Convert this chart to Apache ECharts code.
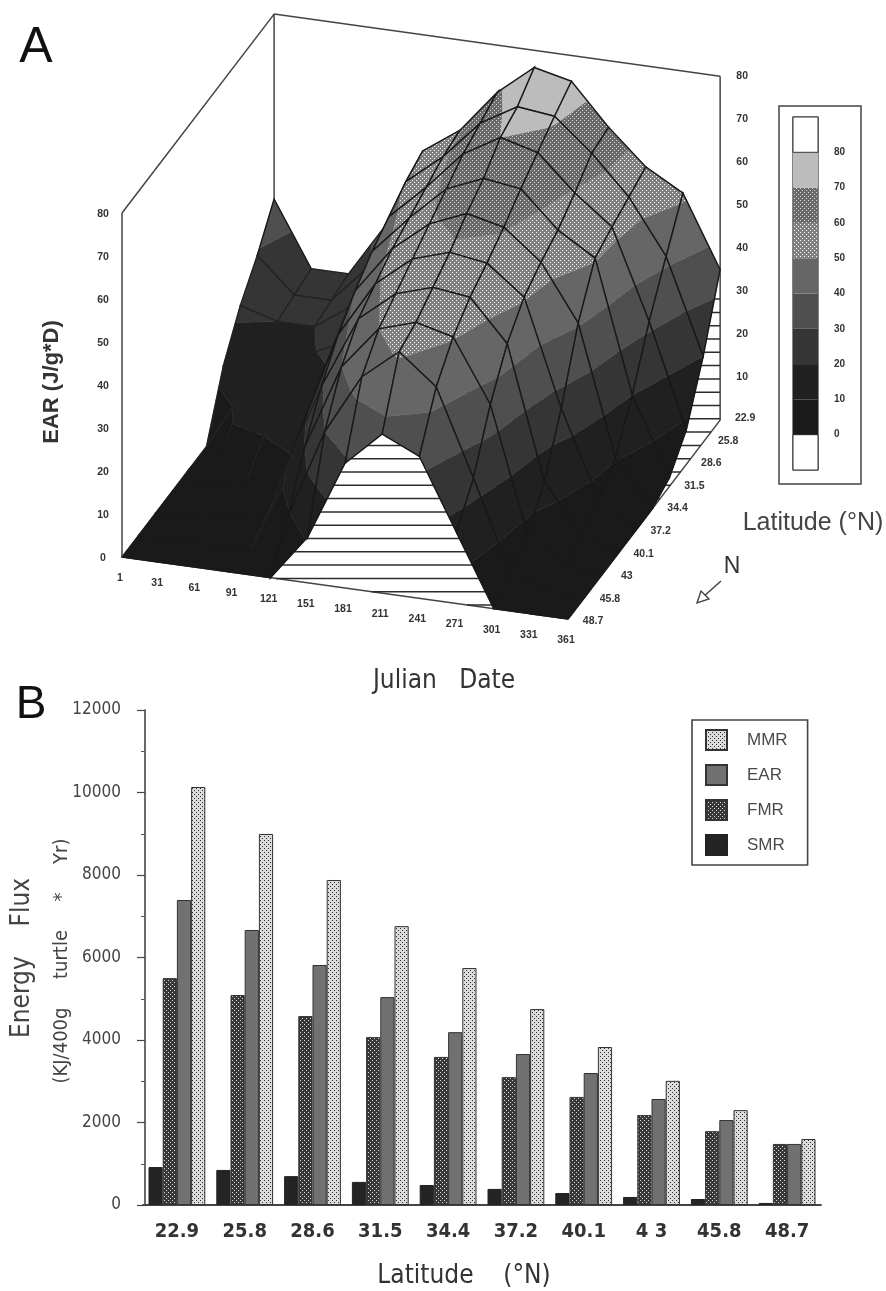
<!DOCTYPE html>
<html><head><meta charset="utf-8">
<style>html,body{margin:0;padding:0;background:#fff}#c{width:886px;height:1291px;filter:blur(0.6px)}</style>
<script src="https://cdn.jsdelivr.net/npm/echarts@6/dist/echarts.min.js"></script>
</head><body><div id="c"></div>
<script>
// ---------- Panel A data ----------
const julianDates = [1,31,61,91,121,151,181,211,241,271,301,331,361];
const latitudeLabels = ['22.9','25.8','28.6','31.5','34.4','37.2','40.1','43','45.8','48.7'];
const ear229 = [37,22,22,34.5,53,59,69,76,74,64.5,56.5,51.6,35];
const ear258 = [29,21,21,30,51,58,67,72,71,63.6,54.6,42,20];
const ear286 = [22.5,20,20,26,48,56,65,70,67.7,59.5,52.8,32,8];
const ear315 = [13.7,18.5,18,22,45,54,62,65.6,64.4,56,50.7,20,2];
const ear344 = [0,14,15,18,41,52,59,62.6,60.6,53.7,40.7,10.5,0];
const ear372 = [0,8,10,13,36,49,56,58.7,57.4,50.7,26,6,0];
const ear401 = [0,3,5,8,29,46,53,55.7,54.6,45,14,3,0];
const ear430 = [0,0,1,3,20,40,50,52.7,50.5,36,7,1,0];
const ear458 = [0,0,0,0,9,30,44,51,44,24,3,0,0];
const ear487 = [0,0,0,0,0,10.7,29,37,33,16.5,0,0,0];
const earRows = [ear229,ear258,ear286,ear315,ear344,ear372,ear401,ear430,ear458,ear487];
const zTicks = [0,10,20,30,40,50,60,70,80];
const bandLows = [-10,0,10,20,30,40,50,60,70,80];
// ---------- Panel B data ----------
const barLatitudes = ['22.9','25.8','28.6','31.5','34.4','37.2','40.1','4 3','45.8','48.7'];
const smr = [920,850,700,560,485,390,290,195,145,50];
const fmr = [5500,5090,4580,4070,3590,3100,2620,2180,1790,1480];
const ear = [7394,6667,5818,5040,4190,3660,3200,2570,2060,1480];
const mmr = [10133,8994,7879,6760,5745,4750,3830,3010,2300,1600];

// ---------- helpers ----------
function dots(base, dot, size, pts){
  const c=document.createElement('canvas');c.width=c.height=size;
  const x=c.getContext('2d');x.fillStyle=base;x.fillRect(0,0,size,size);
  x.fillStyle=dot;pts.forEach(p=>x.fillRect(p[0],p[1],1,1));
  return {image:c,repeat:'repeat'};
}
const lattice=[[0,0],[2,2]];
const bandFill={
  '-10':'#ffffff','0':'#1a1a1a','10':'#202020','20':'#353535','30':'#4f4f4f','40':'#666666',
  '50':dots('#808080','#ffffff',4,lattice),
  '60':dots('#6a6a6a','#d4d4d4',4,lattice),
  '70':'#bcbcbc','80':'#ffffff'
};
const CONDENSED='"DejaVu Sans Condensed","Liberation Sans",sans-serif';
const SANS='"Liberation Sans",Arial,sans-serif';
const INK='#333';

// oblique projection of (date index, row index from the back, EAR) into panel units
function proj(i,k,z){
  return [i*37.17+(9-k)*16.9, 62-i*5.17+(9-k)*22.1+z*4.3];
}
function clipBand(poly,lo,hi){
  function cut(pts,keep,at){
    const out=[];
    for(let n=0;n<pts.length;n++){
      const a=pts[n],b=pts[(n+1)%pts.length];
      if(keep(a[2])) out.push(a);
      if(keep(a[2])!==keep(b[2])){
        const t=(at-a[2])/(b[2]-a[2]);
        out.push([a[0]+(b[0]-a[0])*t,a[1]+(b[1]-a[1])*t,at]);
      }
    }
    return out;
  }
  let p=cut(poly,z=>z>=lo,lo);
  if(p.length) p=cut(p,z=>z<=hi,hi);
  return p;
}
const quads=[];
for(let k=0;k<earRows.length-1;k++)for(let i=0;i<julianDates.length-1;i++)quads.push([i,k]);

function renderQuad(params,api){
  const i=api.value(0),k=api.value(1);
  const corners=[[i,k],[i+1,k],[i+1,k+1],[i,k+1]].map(c=>[c[0],c[1],earRows[c[1]][c[0]]]);
  const poly=corners.map(c=>{const p=proj(c[0],c[1],c[2]);const q=api.coord(p);return [q[0],q[1],c[2]];});
  const children=[];
  bandLows.slice(1,9).forEach(lo=>{
    const part=clipBand(poly,lo,lo+10);
    if(part.length>2){
      const f=bandFill[lo];
      children.push({type:'polygon',shape:{points:part.map(p=>[p[0],p[1]])},
        style:{fill:f,stroke:typeof f==='string'?f:'#858585',lineWidth:0.5}});
    }
  });
  const top=Math.max(...poly.map(p=>p[2]));
  const meshColor=top<=10?'#1a1a1a':(i<4&&top<35?'#232323':'#181818');
  children.push({type:'polygon',shape:{points:poly.map(p=>[p[0],p[1]])},
    style:{fill:'none',stroke:meshColor,lineWidth:1.4}});
  return {type:'group',children};
}
function seg(api,a,b,w,col){
  const p=api.coord(a),q=api.coord(b);
  return {type:'line',shape:{x1:p[0],y1:p[1],x2:q[0],y2:q[1]},style:{stroke:col||'#444',lineWidth:w||1.5}};
}
function renderFrame(params,api){
  const back=0,front=9,last=12;
  const FL=proj(0,front,0),FR=proj(last,front,0),BR=proj(last,back,0),BL=proj(0,back,0);
  const FLt=proj(0,front,80),BLt=proj(0,back,80),BRt=proj(last,back,80);
  return {type:'group',children:[
    seg(api,FL,FLt),seg(api,FLt,BLt),seg(api,BLt,BRt),seg(api,BRt,BR),seg(api,BL,BLt),
    seg(api,FL,FR),seg(api,FR,BR)
  ]};
}
function renderHatch(params,api){
  const FL=proj(0,9,0),FR=proj(12,9,0),BR=proj(12,0,0),BL=proj(0,0,0);
  const top=330;
  const poly=[FL,FR,BR,[BR[0],top],[BL[0],top],BL];
  const ch=[];
  for(let v=14;v<top;v+=13.3){
    const xs=[];
    poly.forEach((a,n)=>{const b=poly[(n+1)%poly.length];
      if((a[1]-v)*(b[1]-v)<=0&&a[1]!==b[1]) xs.push(a[0]+(b[0]-a[0])*(v-a[1])/(b[1]-a[1]));});
    if(xs.length>1) ch.push(seg(api,[Math.min(...xs),v],[Math.max(...xs),v],1.5,'#2c2c2c'));
  }
  return {type:'group',children:ch};
}
function textEl(api,uv,dx,dy,text,font,align){
  const p=api.coord(uv);
  return {type:'text',x:p[0]+dx,y:p[1]+dy,style:{text:String(text),font:font,fill:INK,align:align||'center',verticalAlign:'middle'}};
}
const TICKFONT='bold 10.5px '+SANS;
function hiddenCustom(name,data,renderItem,z){
  return {type:'custom',name,xAxisIndex:0,yAxisIndex:0,data,renderItem,clip:false,silent:true,animation:false,z:z||2,tooltip:{show:false}};
}
const indexed=a=>a.map((_,n)=>[n]);

const option={
  backgroundColor:'#fff',animation:false,
  grid:[
    {left:122,top:12,width:600,height:607,show:false},
    {left:143,top:710,width:678,height:495,show:false},
    {left:793,top:117,width:25,height:353,show:true,borderColor:'#333',borderWidth:1.2,backgroundColor:'#fff'}
  ],
  xAxis:[
    {gridIndex:0,type:'value',min:0,max:600,show:false},
    {gridIndex:1,type:'category',data:barLatitudes,
      axisLine:{lineStyle:{color:'#444',width:1.8}},axisTick:{show:false},
      axisLabel:{color:INK,fontFamily:CONDENSED,fontWeight:'bold',fontSize:20,margin:17},
      name:'Latitude    (°N)',nameLocation:'middle',nameGap:58,
      nameTextStyle:{color:INK,fontFamily:CONDENSED,fontSize:26,padding:[0,36,0,0]}},
    {gridIndex:2,type:'value',min:0,max:1,show:false}
  ],
  yAxis:[
    {gridIndex:0,type:'value',min:0,max:607,show:false},
    {gridIndex:1,type:'value',min:0,max:12000,interval:2000,offset:-2,
      splitLine:{show:false},
      axisLine:{show:true,lineStyle:{color:'#444',width:1.6}},
      axisTick:{show:true,length:8,lineStyle:{color:'#444',width:1.2}},
      minorTick:{show:true,splitNumber:2,length:4,lineStyle:{color:'#555'}},
      axisLabel:{color:'#444',fontFamily:CONDENSED,fontSize:17,margin:24,formatter:v=>String(v)}},
    {gridIndex:2,type:'value',min:-10,max:90,interval:10,position:'right',
      splitLine:{show:false},axisLine:{show:false},axisTick:{show:false},
      axisLabel:{color:INK,fontFamily:SANS,fontWeight:'bold',fontSize:10,margin:16,padding:[5,0,0,0],
        formatter:v=>(v<0||v>80)?'':String(v)}}
  ],
  legend:{
    orient:'vertical',left:692,top:720,
    data:['MMR','EAR','FMR','SMR'],
    itemWidth:21,itemHeight:20,itemGap:13,
    padding:[9,20,9,13],
    borderColor:'#444',borderWidth:1.6,backgroundColor:'#fff',
    textStyle:{color:'#4a4a4a',fontFamily:SANS,fontSize:17,padding:[0,0,0,15]},
    selectedMode:false,icon:'rect'
  },
  graphic:[
    {type:'rect',shape:{x:779,y:106,width:82,height:378},style:{fill:'none',stroke:'#444',lineWidth:1.5},z:1},
    {type:'text',x:36,y:48,style:{text:'A',font:'50px '+SANS,fill:'#111',align:'center',verticalAlign:'middle'}},
    {type:'text',x:31,y:705,style:{text:'B',font:'46px '+SANS,fill:'#111',align:'center',verticalAlign:'middle'}},
    {type:'text',x:52,y:382,rotation:Math.PI/2,style:{text:'EAR (J/g*D)',font:'bold 22px '+SANS,fill:INK,align:'center',verticalAlign:'middle'}},
    {type:'text',x:444,y:681,style:{text:'Julian   Date',font:'26px '+CONDENSED,fill:INK,align:'center',verticalAlign:'middle'}},
    {type:'text',x:813,y:523,style:{text:'Latitude (°N)',font:'25px '+SANS,fill:'#444',align:'center',verticalAlign:'middle'}},
    {type:'text',x:732,y:567,style:{text:'N',font:'23px '+SANS,fill:'#333',align:'center',verticalAlign:'middle'}},
    {type:'line',shape:{x1:721,y1:581,x2:703,y2:597},style:{stroke:'#444',lineWidth:1.5}},
    {type:'polygon',shape:{points:[[697,603],[701,591],[709,599]]},style:{fill:'#fff',stroke:'#444',lineWidth:1.4}},
    {type:'text',x:22,y:958,rotation:Math.PI/2,style:{text:'Energy    Flux',font:'26px '+CONDENSED,fill:'#444',align:'center',verticalAlign:'middle'}},
    {type:'text',x:62,y:961,rotation:Math.PI/2,style:{text:'(KJ/400g     turtle     *     Yr)',font:'20px '+CONDENSED,fill:'#444',align:'center',verticalAlign:'middle'}}
  ],
  series:[
    hiddenCustom('walls',[[0]],renderFrame,1),
    hiddenCustom('hatch',[[0]],renderHatch,1),
    hiddenCustom('surface',quads,renderQuad,3),
    hiddenCustom('zLeft',zTicks.map(z=>[z]),(p,api)=>textEl(api,proj(0,9,api.value(0)),-19,1,api.value(0),TICKFONT),4),
    hiddenCustom('zRight',zTicks.slice(1).map(z=>[z]),(p,api)=>textEl(api,proj(12,0,api.value(0)),22,0,api.value(0),TICKFONT),4),
    hiddenCustom('dateLabels',indexed(julianDates),(p,api)=>textEl(api,proj(api.value(0),9,0),-2,21,julianDates[api.value(0)],TICKFONT),4),
    hiddenCustom('latLabels',indexed(latitudeLabels),(p,api)=>textEl(api,proj(12,api.value(0),0),25,api.value(0)*0.5-2,latitudeLabels[api.value(0)],TICKFONT),4),
    {type:'custom',name:'scale',xAxisIndex:2,yAxisIndex:2,data:bandLows.map(b=>[b]),silent:true,animation:false,z:5,
      renderItem:(p,api)=>{
        const lo=api.value(0),a=api.coord([0,lo+10]),b=api.coord([1,lo]);
        const ins=(lo<0||lo>=80);
        return {type:'rect',shape:{x:a[0],y:a[1],width:b[0]-a[0],height:b[1]-a[1]},
          style:{fill:bandFill[lo],stroke:ins?'#333':'none',lineWidth:1}};
      }},
    {type:'bar',name:'SMR',xAxisIndex:1,yAxisIndex:1,data:smr,barWidth:14.2,barGap:'0%',
      itemStyle:{color:'#242424',borderColor:'#222',borderWidth:1}},
    {type:'bar',name:'FMR',xAxisIndex:1,yAxisIndex:1,data:fmr,barWidth:14.2,barGap:'0%',
      itemStyle:{color:dots('#383838','#dcdcdc',4,lattice),borderColor:'#333',borderWidth:1}},
    {type:'bar',name:'EAR',xAxisIndex:1,yAxisIndex:1,data:ear,barWidth:14.2,barGap:'0%',
      itemStyle:{color:'#717171',borderColor:'#333',borderWidth:1}},
    {type:'bar',name:'MMR',xAxisIndex:1,yAxisIndex:1,data:mmr,barWidth:14.2,barGap:'0%',
      itemStyle:{color:dots('#dcdcdc','#2c2c2c',4,lattice),borderColor:'#333',borderWidth:1}}
  ]
};
const chart=echarts.init(document.getElementById('c'),null,{renderer:'canvas',width:886,height:1291});
chart.setOption(option);
</script></body></html>
